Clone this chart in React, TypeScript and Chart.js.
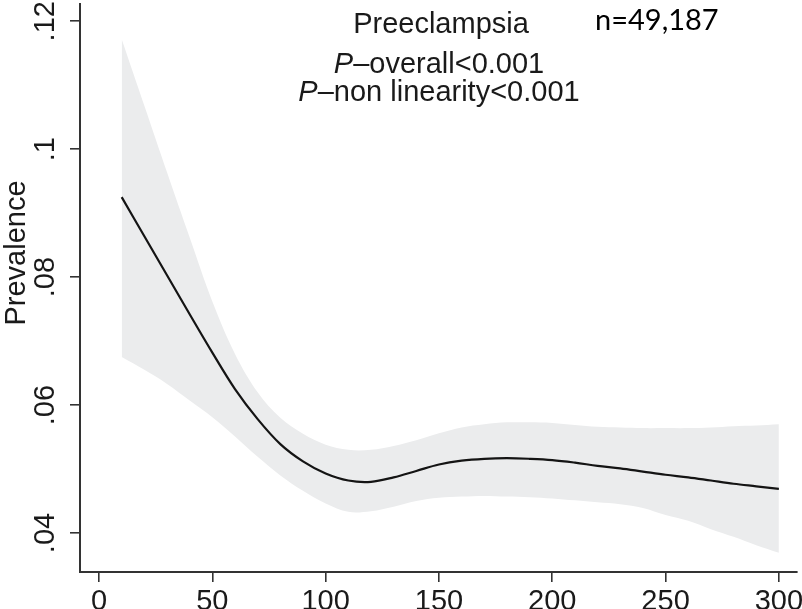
import React, { useEffect, useRef } from "react";
import { Chart, registerables } from "chart.js";

Chart.register(...registerables);

// x values (exposure) at which the spline was read
const xValues = [10, 20, 30, 40, 50, 60, 70, 80, 90, 100, 110, 120, 130, 140, 150, 160, 170, 180, 190, 200, 210, 220, 230, 240, 250, 260, 270, 280, 290, 300];
// fitted prevalence
const fitValues = [0.0925, 0.0864, 0.0803, 0.0742, 0.0682, 0.0625, 0.0578, 0.0539, 0.0512, 0.0493, 0.0482, 0.0480, 0.0487, 0.0497, 0.0507, 0.0513, 0.0516, 0.0517, 0.0516, 0.0514, 0.0510, 0.0505, 0.0501, 0.0496, 0.0491, 0.0487, 0.0482, 0.0477, 0.0473, 0.0469];
// upper 95% CI
const upperValues = [0.1172, 0.1068, 0.0964, 0.0862, 0.0762, 0.0680, 0.0620, 0.0580, 0.0555, 0.0538, 0.0530, 0.0530, 0.0536, 0.0545, 0.0556, 0.0565, 0.0570, 0.0573, 0.0573, 0.0572, 0.0569, 0.0566, 0.0565, 0.0564, 0.0564, 0.0564, 0.0565, 0.0567, 0.0568, 0.0570];
// lower 95% CI
const lowerValues = [0.0675, 0.0655, 0.0633, 0.0607, 0.0581, 0.0551, 0.0519, 0.0490, 0.0466, 0.0446, 0.0433, 0.0434, 0.0441, 0.0450, 0.0455, 0.0457, 0.0458, 0.0457, 0.0456, 0.0454, 0.0451, 0.0448, 0.0445, 0.0439, 0.0428, 0.0419, 0.0406, 0.0394, 0.0381, 0.0369];

const xTicks = [0, 50, 100, 150, 200, 250, 300];
const yTicks = [0.04, 0.06, 0.08, 0.1, 0.12];
const yTickLabels = [".04", ".06", ".08", ".1", ".12"];

const titleText = "Preeclampsia";
const nText = "n=49,187";
const pLines = ["–overall<0.001", "–non linearity<0.001"];
const yAxisTitle = "Prevalence";

const FONT = "'Liberation Sans', Arial, Helvetica, sans-serif";

const textPlugin = {
  id: "textPlugin",
  afterDraw(chart: any) {
    const ctx = chart.ctx;
    ctx.save();
    ctx.fillStyle = "#1a1a1a";
    ctx.textBaseline = "alphabetic";
    // title
    ctx.font = `29px ${FONT}`;
    ctx.textAlign = "center";
    ctx.fillText(titleText, 441, 33);
    // n
    ctx.font = `29px Lato, 'Noto Sans', sans-serif`;
    ctx.textAlign = "left";
    ctx.fillStyle = "#000";
    ctx.fillText(nText, 595, 30);
    // P lines
    ctx.fillStyle = "#1a1a1a";
    const baselines = [73, 101];
    pLines.forEach((rest, i) => {
      ctx.font = `italic 29px ${FONT}`;
      const wP = ctx.measureText("P").width;
      ctx.font = `29px ${FONT}`;
      const wR = ctx.measureText(rest).width;
      const start = 439 - (wP + wR) / 2;
      ctx.textAlign = "left";
      ctx.font = `italic 29px ${FONT}`;
      ctx.fillText("P", start, baselines[i]);
      ctx.font = `29px ${FONT}`;
      ctx.fillText(rest, start + wP, baselines[i]);
    });
    // y axis title
    ctx.translate(25, 253);
    ctx.rotate(-Math.PI / 2);
    ctx.textAlign = "center";
    ctx.font = `29px ${FONT}`;
    ctx.fillText(yAxisTitle, 0, 0);
    ctx.restore();
  },
};

export default function App() {
  const ref = useRef<HTMLCanvasElement | null>(null);

  useEffect(() => {
    if (!ref.current) return;
    const pts = (ys: number[]) => xValues.map((x, i) => ({ x, y: ys[i] }));
    const chart = new Chart(ref.current, {
      type: "line",
      data: {
        datasets: [
          {
            label: "fit",
            data: pts(fitValues),
            borderWidth: 2.2,
            borderColor: "#141414",
            fill: false,
            pointRadius: 0,
            tension: 0.35,
            order: 0,
          },
          {
            label: "upper",
            data: pts(upperValues),
            borderWidth: 0,
            borderColor: "rgba(0,0,0,0)",
            backgroundColor: "#ebeced",
            fill: "+1",
            pointRadius: 0,
            tension: 0.35,
            order: 1,
          },
          {
            label: "lower",
            data: pts(lowerValues),
            borderWidth: 0,
            borderColor: "rgba(0,0,0,0)",
            fill: false,
            pointRadius: 0,
            tension: 0.35,
            order: 2,
          },
        ],
      },
      options: {
        animation: false,
        responsive: false,
        layout: { padding: { top: 4, right: 5, left: 0, bottom: 0 } },
        plugins: { legend: { display: false }, tooltip: { enabled: false }, title: { display: false } },
        scales: {
          x: {
            type: "linear",
            min: -8.4,
            max: 308,
            afterBuildTicks: (s: any) => {
              s.ticks = xTicks.map((v) => ({ value: v }));
            },
            afterFit: (s: any) => {
              s.height = 37;
              s.paddingLeft = 0;
              s.paddingRight = 0;
            },
            grid: { drawOnChartArea: false, drawTicks: true, tickLength: 10, color: "#333", lineWidth: 1.6 },
            border: { display: true, color: "#333", width: 2 },
            ticks: {
              autoSkip: false,
              maxRotation: 0,
              minRotation: 0,
              padding: 3,
              color: "#1a1a1a",
              font: { family: FONT, size: 29 },
              callback: (v: any) => String(v),
            },
          },
          y: {
            type: "linear",
            min: 0.0339,
            max: 0.1227,
            afterBuildTicks: (s: any) => {
              s.ticks = yTicks.map((v) => ({ value: v }));
            },
            afterFit: (s: any) => {
              s.width = 80;
              s.paddingTop = 0;
              s.paddingBottom = 0;
            },
            grid: { drawOnChartArea: false, drawTicks: true, tickLength: 10, color: "#333", lineWidth: 1.6 },
            border: { display: true, color: "#333", width: 2 },
            ticks: {
              autoSkip: false,
              minRotation: 90,
              maxRotation: 90,
              crossAlign: "center",
              padding: 4,
              color: "#1a1a1a",
              font: { family: FONT, size: 29 },
              callback: (v: any) => {
                const i = yTicks.findIndex((t) => Math.abs(t - v) < 1e-9);
                return i >= 0 ? yTickLabels[i] : "";
              },
            },
          },
        },
      },
      plugins: [textPlugin],
    } as any);
    return () => chart.destroy();
  }, []);

  return (
    <div style={{ position: "absolute", left: 0, top: 0, width: 802, height: 609, background: "#fff" }}>
      <canvas ref={ref} width={802} height={609} />
    </div>
  );
}
